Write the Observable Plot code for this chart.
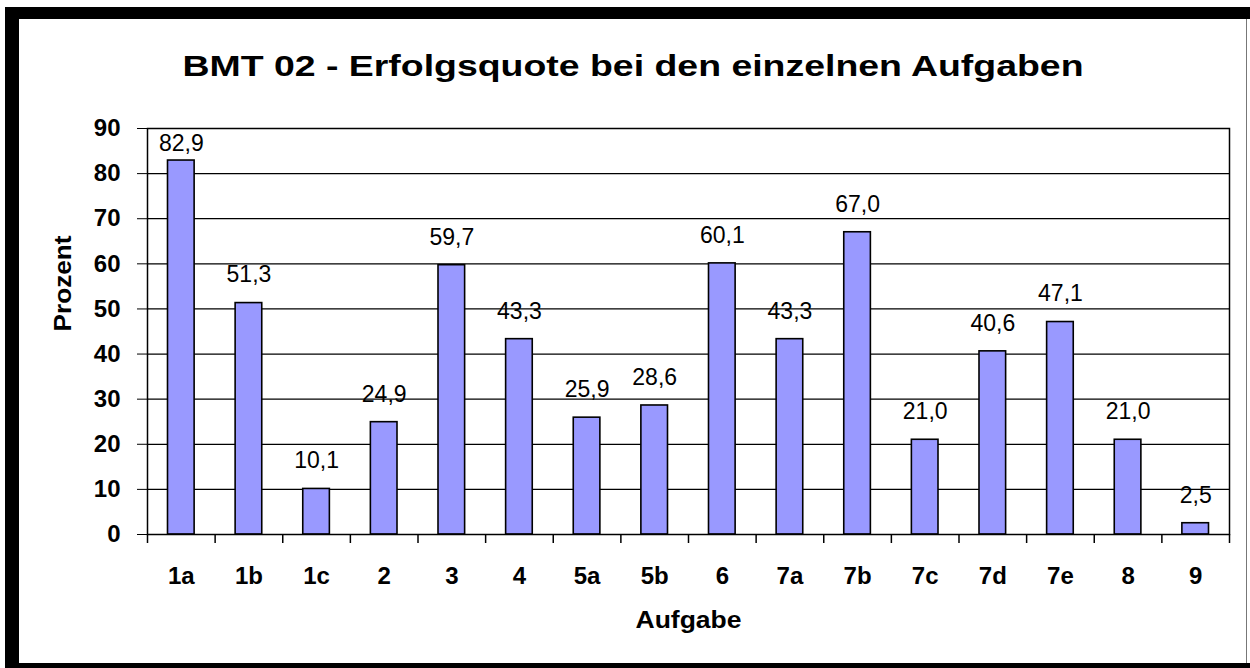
<!DOCTYPE html>
<html>
<head>
<meta charset="utf-8">
<script src="https://cdn.jsdelivr.net/npm/d3@7"></script>
<script src="https://cdn.jsdelivr.net/npm/@observablehq/plot@0.6"></script>
<style>
  html, body { margin: 0; padding: 0; background: #fff; }
  #wrap { position: relative; width: 1250px; height: 668px; overflow: hidden; background: #fff; }
  #outer { position: absolute; left: 5px; top: 7px; right: 0; bottom: 0; background: #000; }
  #inner { position: absolute; left: 19px; top: 19px; width: 1231px; height: 644px; background: #fff; }
  #edge { position: absolute; left: 1246px; top: 19px; width: 1px; height: 644px; background: #777; }
  #chart { position: absolute; left: 0; top: 0; }
</style>
</head>
<body>
<div id="wrap">
  <div id="outer"></div>
  <div id="inner"></div>
  <div id="edge"></div>
  <div id="chart"></div>
</div>
<script>
const title = "BMT 02 - Erfolgsquote bei den einzelnen Aufgaben";
const xTitle = "Aufgabe";
const yTitle = "Prozent";
const categories = ["1a","1b","1c","2","3","4","5a","5b","6","7a","7b","7c","7d","7e","8","9"];
const values = [82.9, 51.3, 10.1, 24.9, 59.7, 43.3, 25.9, 28.6, 60.1, 43.3, 67.0, 21.0, 40.6, 47.1, 21.0, 2.5];
const yTicks = [0, 10, 20, 30, 40, 50, 60, 70, 80, 90];

const data = categories.map((c, i) => ({cat: c, value: values[i]}));
const fmt = v => d3.format(".1f")(v).replace(".", ",");

const W = 1250, H = 668;
const mL = 147, mR = 21, mT = 128, mB = 134;
const step = (W - mL - mR) / categories.length;
const font = "'Liberation Sans', Arial, Helvetica, sans-serif";

const chart = Plot.plot({
  width: W,
  height: H,
  marginLeft: mL,
  marginRight: mR,
  marginTop: mT,
  marginBottom: mB,
  style: {background: "transparent", fontFamily: font, fontSize: "24px", fontWeight: "bold", color: "#000"},
  x: {domain: categories, padding: 0, round: false, tickSize: 0, tickPadding: 32, label: null},
  y: {domain: [0, 90], ticks: yTicks, tickSize: 10, tickPadding: 17, label: null},
  marks: [
    Plot.ruleY(yTicks.filter(t => t > 0), {stroke: "#000", strokeWidth: 1.2}),
    Plot.barY(data, {x: "cat", y: "value", fill: "#9999FF", stroke: "#000", strokeWidth: 1.6, insetLeft: 20.5, insetRight: 20.5}),
    Plot.ruleX(categories, {x: d => d, dx: -step / 2, y1: 0, y2: -2, stroke: "#000", strokeWidth: 1.5}),
    Plot.ruleX(categories.slice(-1), {x: d => d, dx: step / 2, y1: 0, y2: -2, stroke: "#000", strokeWidth: 1.5}),
    Plot.frame({stroke: "#000", strokeWidth: 1.5}),
    Plot.text(data, {x: "cat", y: d => Math.min(d.value, 80.5), text: d => fmt(d.value), dy: -28, lineAnchor: "middle", fontSize: 23, fontWeight: "normal", fill: "#000"}),
    Plot.text([title], {frameAnchor: "top", dx: -55.5, dy: -62.5, lineAnchor: "middle", fontSize: 30, fontWeight: "bold", fill: "#000"}),
    Plot.text([xTitle], {frameAnchor: "bottom", dy: 86, lineAnchor: "middle", fontSize: 24, fontWeight: "bold", fill: "#000"}),
    Plot.text([yTitle], {frameAnchor: "left", dx: -84, dy: 0, rotate: -90, lineAnchor: "middle", fontSize: 24, fontWeight: "bold", fill: "#000"})
  ]
});

document.getElementById("chart").appendChild(chart);

chart.querySelectorAll("text").forEach(t => {
  const s = t.textContent;
  if (s === title) { t.setAttribute("textLength", 901); t.setAttribute("lengthAdjust", "spacingAndGlyphs"); }
  if (s === xTitle) { t.setAttribute("textLength", 106); t.setAttribute("lengthAdjust", "spacingAndGlyphs"); }
  if (s === yTitle) { t.setAttribute("textLength", 96); t.setAttribute("lengthAdjust", "spacingAndGlyphs"); }
});
</script>
</body>
</html>
